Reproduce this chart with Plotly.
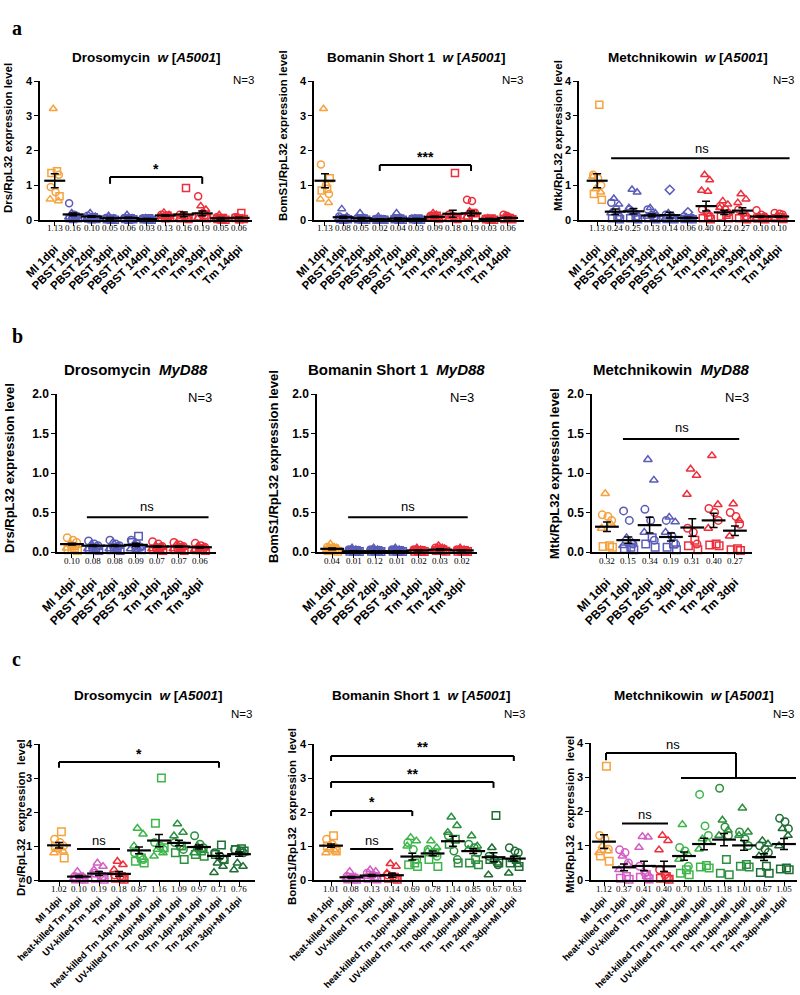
import plotly.graph_objects as go

W, H = 800, 995
NB = "\u00a0"

# ---------------- categories ----------------
cats_a = ["MI 1dpi", "PBST 1dpi", "PBST 2dpi", "PBST 3dpi", "PBST 7dpi", "PBST 14dpi",
          "Tm 1dpi", "Tm 2dpi", "Tm 3dpi", "Tm 7dpi", "Tm 14dpi"]
cats_b = ["MI 1dpi", "PBST 1dpi", "PBST 2dpi", "PBST 3dpi", "Tm 1dpi", "Tm 2dpi", "Tm 3dpi"]
cats_c = ["MI 1dpi", "heat-killed Tm 1dpi", "UV-killed Tm 1dpi", "Tm 1dpi",
          "heat-killed Tm 1dpi+MI 1dpi", "UV-killed Tm 1dpi+MI 1dpi", "Tm 0dpi+MI 1dpi",
          "Tm 1dpi+MI 1dpi", "Tm 2dpi+MI 1dpi", "Tm 3dpi+MI 1dpi"]

# ---------------- panel a1: Drosomycin w[A5001] ----------------
a1_means = [1.13, 0.16, 0.10, 0.05, 0.06, 0.03, 0.13, 0.16, 0.19, 0.05, 0.06]
a1_sem = [0.20, 0.04, 0.02, 0.02, 0.02, 0.01, 0.02, 0.07, 0.07, 0.02, 0.02]
a1_circ = [[0.95, 0.80, 1.30], [0.48, 0.15, 0.10, 0.06], [0.12, 0.08, 0.05, 0.03], [0.06, 0.03, 0.02, 0.01],
           [0.06, 0.04, 0.02, 0.01], [0.05, 0.03, 0.01, 0.02], [0.15, 0.12, 0.10, 0.07], [0.15, 0.10, 0.05],
           [0.68, 0.20, 0.10], [0.08, 0.03, 0.02, 0.01], [0.08, 0.05, 0.03, 0.02]]
a1_tri = [[3.20, 0.55, 0.60], [0.20, 0.12, 0.08, 0.05], [0.20, 0.10, 0.06, 0.03], [0.12, 0.05, 0.02, 0.03],
          [0.15, 0.06, 0.03, 0.02], [0.06, 0.03, 0.02, 0.01], [0.22, 0.15, 0.10, 0.08], [0.15, 0.08, 0.04],
          [0.40, 0.30, 0.05], [0.15, 0.05, 0.02, 0.03], [0.10, 0.05, 0.02, 0.03]]
a1_sq = [[1.40, 1.35, 0.68], [0.10, 0.05, 0.05, 0.03], [0.08, 0.04, 0.03, 0.02], [0.04, 0.02, 0.01, 0.02],
         [0.05, 0.03, 0.02, 0.01], [0.05, 0.02, 0.01, 0.02], [0.12, 0.08, 0.06, 0.05], [0.92, 0.05, 0.03],
         [0.15, 0.10, 0.05], [0.06, 0.03, 0.01, 0.02], [0.20, 0.06, 0.03, 0.02]]

# ---------------- panel a2: Bomanin Short 1 w[A5001] ----------------
a2_means = [1.13, 0.08, 0.05, 0.02, 0.04, 0.03, 0.09, 0.18, 0.19, 0.03, 0.06]
a2_sem = [0.20, 0.03, 0.02, 0.01, 0.02, 0.01, 0.02, 0.10, 0.07, 0.01, 0.02]
a2_circ = [[1.60, 1.00, 0.75], [0.10, 0.05, 0.02, 0.04], [0.06, 0.03, 0.02, 0.01], [0.03, 0.02, 0.01, 0.02],
           [0.05, 0.03, 0.02, 0.01], [0.04, 0.03, 0.02, 0.01], [0.12, 0.08, 0.05, 0.10], [0.15, 0.10, 0.05],
           [0.58, 0.55, 0.20], [0.04, 0.03, 0.02, 0.01], [0.15, 0.08, 0.04, 0.12]]
a2_tri = [[3.20, 0.50, 0.60], [0.32, 0.10, 0.05, 0.03], [0.20, 0.05, 0.02, 0.03], [0.10, 0.02, 0.01, 0.03],
          [0.20, 0.05, 0.02, 0.03], [0.05, 0.03, 0.02, 0.01], [0.20, 0.10, 0.05, 0.15], [0.12, 0.08, 0.04],
          [0.25, 0.15, 0.08], [0.06, 0.03, 0.02, 0.01], [0.10, 0.05, 0.02, 0.08]]
a2_sq = [[0.90, 0.85, 1.20], [0.05, 0.03, 0.02, 0.01], [0.04, 0.02, 0.01, 0.02], [0.02, 0.01, 0.01, 0.02],
         [0.04, 0.02, 0.01, 0.02], [0.04, 0.02, 0.01, 0.02], [0.12, 0.07, 0.04, 0.09], [1.35, 0.06, 0.03],
         [0.20, 0.10, 0.05], [0.04, 0.02, 0.01, 0.02], [0.06, 0.03, 0.02, 0.05]]

# ---------------- panel a3: Metchnikowin w[A5001] ----------------
a3_means = [1.13, 0.24, 0.25, 0.13, 0.14, 0.06, 0.40, 0.22, 0.27, 0.10, 0.10]
a3_sem = [0.20, 0.08, 0.08, 0.04, 0.08, 0.02, 0.14, 0.06, 0.08, 0.02, 0.02]
a3_circ = [[1.30, 1.20, 1.00], [0.50, 0.30, 0.10], [0.30, 0.20, 0.10], [0.30, 0.15, 0.10],
           [0.15, 0.10, 0.05], [0.10, 0.05, 0.03], [0.30, 0.20, 0.10], [0.40, 0.30, 0.20],
           [0.30, 0.20, 0.10], [0.28, 0.15, 0.10], [0.20, 0.18, 0.15]]
a3_tri = [[0.90, 0.80, 1.25], [0.62, 0.45, 0.20], [0.88, 0.80, 0.35], [0.35, 0.20, 0.10],
          [0.20, 0.10, 0.05], [0.08, 0.05, 0.02], [1.30, 1.15, 0.85, 0.82], [0.55, 0.45, 0.35],
          [0.75, 0.60, 0.50], [0.12, 0.08, 0.05], [0.12, 0.08, 0.05]]
a3_sq = [[3.32, 0.75, 0.58], [0.10, 0.05, 0.02], [0.10, 0.05, 0.02], [0.10, 0.05, 0.02],
         [0.05, 0.03, 0.02], [0.05, 0.03, 0.02], [0.10, 0.05, 0.02], [0.15, 0.10, 0.05],
         [0.10, 0.05, 0.02], [0.06, 0.04, 0.02], [0.08, 0.05, 0.03]]
a3_dia = [[], [], [], [], [0.87], [0.22], [], [], [], [], []]

# ---------------- panel b1: Drosomycin MyD88 ----------------
b1_means = [0.10, 0.08, 0.08, 0.09, 0.07, 0.07, 0.06]
b1_sem = [0.01, 0.01, 0.01, 0.02, 0.01, 0.01, 0.01]
b1_circ = [[0.18, 0.15, 0.12, 0.09], [0.14, 0.10, 0.08, 0.06], [0.15, 0.10, 0.08, 0.06], [0.15, 0.10, 0.06, 0.08],
           [0.13, 0.10, 0.07, 0.05], [0.12, 0.09, 0.07, 0.05], [0.11, 0.08, 0.06, 0.05]]
b1_tri = [[0.10, 0.08, 0.05, 0.06], [0.10, 0.06, 0.04, 0.05], [0.12, 0.07, 0.04, 0.05], [0.10, 0.06, 0.04, 0.05],
          [0.08, 0.06, 0.04, 0.05], [0.10, 0.06, 0.04, 0.05], [0.08, 0.05, 0.03, 0.04]]
b1_sq = [[0.05, 0.03, 0.02, 0.04], [0.05, 0.03, 0.02, 0.04], [0.05, 0.03, 0.02, 0.04], [0.20, 0.12, 0.03, 0.05],
         [0.05, 0.03, 0.02, 0.04], [0.05, 0.03, 0.02, 0.04], [0.04, 0.03, 0.02, 0.03]]

# ---------------- panel b2: Bomanin Short 1 MyD88 ----------------
b2_means = [0.04, 0.01, 0.01, 0.01, 0.02, 0.03, 0.02]
b2_labels = ["0.04", "0.01", "0.12", "0.01", "0.02", "0.03", "0.02"]
b2_sem = [0.01, 0.005, 0.005, 0.005, 0.005, 0.01, 0.005]
b2_circ = [[0.06, 0.04, 0.03, 0.05], [0.03, 0.02, 0.01, 0.02], [0.03, 0.02, 0.01, 0.02], [0.03, 0.02, 0.01, 0.02],
           [0.03, 0.02, 0.01, 0.02], [0.05, 0.03, 0.02, 0.04], [0.03, 0.02, 0.01, 0.02]]
b2_tri = [[0.10, 0.05, 0.03, 0.06], [0.05, 0.02, 0.01, 0.03], [0.05, 0.02, 0.01, 0.03], [0.05, 0.02, 0.01, 0.03],
          [0.05, 0.02, 0.01, 0.03], [0.08, 0.04, 0.02, 0.05], [0.05, 0.02, 0.01, 0.03]]
b2_sq = [[0.04, 0.02, 0.01, 0.03], [0.02, 0.01, 0.005, 0.01], [0.02, 0.01, 0.005, 0.01], [0.02, 0.01, 0.005, 0.01],
         [0.02, 0.01, 0.005, 0.01], [0.03, 0.02, 0.01, 0.02], [0.02, 0.01, 0.005, 0.01]]

# ---------------- panel b3: Metchnikowin MyD88 ----------------
b3_means = [0.32, 0.15, 0.34, 0.19, 0.31, 0.40, 0.27]
b3_sem = [0.06, 0.04, 0.10, 0.05, 0.11, 0.09, 0.06]
b3_circ = [[0.47, 0.45, 0.40], [0.52, 0.40, 0.10], [0.54, 0.40, 0.15], [0.40, 0.20, 0.10],
           [0.30, 0.25, 0.10], [0.55, 0.50, 0.40], [0.50, 0.45, 0.35]]
b3_tri = [[0.74, 0.35, 0.30], [0.18, 0.12, 0.08], [1.17, 0.91, 0.25], [0.44, 0.38, 0.25],
          [1.05, 0.97, 0.73], [1.22, 0.60, 0.30], [0.61, 0.40, 0.20]]
b3_sq = [[0.08, 0.07, 0.06], [0.06, 0.04, 0.03], [0.18, 0.10, 0.06], [0.10, 0.06, 0.03],
         [0.15, 0.08, 0.03], [0.10, 0.09, 0.08], [0.04, 0.03, 0.02]]

# ---------------- panel c1: Drosomycin w[A5001] ----------------
c1_means = [1.02, 0.10, 0.19, 0.18, 0.87, 1.16, 1.09, 0.97, 0.71, 0.76]
c1_sem = [0.08, 0.03, 0.06, 0.07, 0.10, 0.18, 0.08, 0.06, 0.08, 0.06]
c1_circ = [[1.20, 1.10, 1.00], [0.10, 0.08, 0.05], [0.20, 0.15, 0.10], [0.15, 0.10, 0.05],
           [0.80, 0.70, 0.60], [1.10, 1.00, 0.90], [1.10, 1.00, 0.90], [1.30, 1.05, 0.95],
           [0.80, 0.70, 0.60], [0.90, 0.85, 0.80]]
c1_tri = [[0.90, 0.85, 0.80], [0.25, 0.10, 0.05], [0.50, 0.40, 0.30], [0.55, 0.45, 0.30],
          [1.52, 1.35, 1.00], [0.90, 0.80, 0.70], [1.65, 1.40, 1.30], [1.00, 0.90, 0.80],
          [0.50, 0.40, 0.22], [0.50, 0.40, 0.30]]
c1_sq = [[1.42, 1.00, 0.65], [0.05, 0.03, 0.02], [0.10, 0.05, 0.02], [0.10, 0.05, 0.02],
         [0.65, 0.55, 0.50], [3.00, 1.67, 0.95], [1.00, 0.80, 0.60], [0.85, 0.75, 0.70],
         [1.03, 0.75, 0.60], [0.92, 0.90, 0.85]]

# ---------------- panel c2: Bomanin Short 1 w[A5001] ----------------
c2_means = [1.01, 0.08, 0.13, 0.14, 0.69, 0.78, 1.14, 0.85, 0.67, 0.63]
c2_sem = [0.05, 0.02, 0.03, 0.06, 0.10, 0.07, 0.15, 0.07, 0.13, 0.07]
c2_circ = [[1.20, 1.05, 0.95], [0.10, 0.06, 0.04], [0.20, 0.15, 0.10], [0.15, 0.10, 0.05],
           [1.10, 0.90, 0.60], [0.90, 0.80, 0.70], [1.30, 0.85, 0.60], [1.05, 0.95, 0.80],
           [0.70, 0.60, 0.45], [0.95, 0.85, 0.80]]
c2_tri = [[0.90, 0.85, 0.80], [0.25, 0.08, 0.04], [0.30, 0.25, 0.10], [0.48, 0.40, 0.20],
          [1.25, 1.15, 1.00], [1.15, 0.95, 0.85], [1.85, 1.60, 1.40], [1.30, 1.00, 0.90],
          [0.95, 0.50, 0.15], [0.60, 0.45, 0.20]]
c2_sq = [[1.30, 1.00, 0.85], [0.05, 0.03, 0.02], [0.10, 0.05, 0.03], [0.08, 0.05, 0.02],
         [0.50, 0.45, 0.40], [0.80, 0.60, 0.40], [1.20, 1.05, 0.50], [0.60, 0.50, 0.45],
         [1.90, 0.60, 0.50], [0.60, 0.50, 0.40]]

# ---------------- panel c3: Metchnikowin w[A5001] ----------------
c3_means = [1.12, 0.37, 0.41, 0.40, 0.70, 1.05, 1.18, 1.01, 0.67, 1.05]
c3_sem = [0.20, 0.10, 0.14, 0.15, 0.12, 0.17, 0.18, 0.14, 0.10, 0.16]
c3_circ = [[1.30, 1.20, 0.90], [0.88, 0.80, 0.50], [0.40, 0.20, 0.10], [0.30, 0.15, 0.05],
           [0.95, 0.85, 0.40], [2.50, 1.58, 1.30], [2.68, 1.55, 1.30], [1.40, 1.20, 1.00],
           [1.00, 0.90, 0.80], [1.80, 1.70, 1.50]]
c3_tri = [[1.00, 0.85, 0.80], [0.70, 0.45, 0.30], [1.27, 1.25, 0.95], [1.30, 1.15, 0.88],
          [1.62, 0.75, 0.60], [1.20, 1.10, 0.90], [1.75, 1.45, 1.30], [2.10, 1.40, 1.30],
          [1.15, 1.05, 0.70], [1.50, 1.30, 1.00]]
c3_sq = [[3.32, 0.70, 0.55], [0.10, 0.05, 0.02], [0.15, 0.08, 0.03], [0.10, 0.05, 0.02],
         [0.30, 0.20, 0.15], [0.42, 0.38, 0.35], [0.60, 0.20, 0.15], [0.45, 0.40, 0.38],
         [0.40, 0.22, 0.20], [0.35, 0.32, 0.30]]

# ---------------- styles ----------------
ORG, BLU, RED = "#F6A23E", "#5A5CB8", "#EC2F3B"
PNK, LG, MG, DG = "#D35DC3", "#3DB54A", "#2B8F3D", "#1F6E33"
col_a = [ORG] + [BLU] * 5 + [RED] * 5
col_b = [ORG] + [BLU] * 3 + [RED] * 3
col_c = [ORG, PNK, PNK, RED, LG, LG, MG, MG, DG, DG]

OFFS = [[-0.22, 0.05, 0.22, -0.05],
        [-0.08, 0.20, -0.25, 0.10],
        [0.12, -0.18, 0.26, 0.0],
        [0.0, 0.1]]
SYMS = ["circle-open", "triangle-up-open", "square-open", "diamond-open"]

SANS = "Liberation Sans"
SERIF = "Liberation Serif"

fig = go.Figure()
annotations = []
shapes = []


def px_x(v):
    return v / W


def px_y(v):
    return 1 - v / H


def add_panel(n, cats, groups_list, means, sem, labels, colors, geom):
    xr = "x" if n == 1 else f"x{n}"
    yr = "y" if n == 1 else f"y{n}"
    for si, groups in enumerate(groups_list):
        xs, ys, cs = [], [], []
        for gi, vals in enumerate(groups):
            for k, v in enumerate(vals):
                xs.append(gi + OFFS[si][k % len(OFFS[si])])
                ys.append(v)
                cs.append(colors[gi])
        if not xs:
            continue
        fig.add_trace(go.Scatter(
            x=xs, y=ys, mode="markers", xaxis=xr, yaxis=yr, cliponaxis=False,
            marker=dict(symbol=SYMS[si], size=geom["ms"], color=cs, line=dict(color=cs, width=1.5)),
            hoverinfo="skip"))
    fig.add_trace(go.Scatter(
        x=list(range(len(cats))), y=means, mode="markers", xaxis=xr, yaxis=yr, cliponaxis=False,
        marker=dict(symbol="line-ew-open", size=geom["mw"], color="black",
                    line=dict(color="black", width=2.2)),
        error_y=dict(type="data", array=sem, color="black", thickness=1.5, width=4),
        hoverinfo="skip"))
    for i, lab in enumerate(labels):
        annotations.append(dict(x=i, y=0, xref=xr, yref=f"{yr} domain", text=lab, showarrow=False,
                                yshift=-geom["lab_dy"], yanchor="middle",
                                font=dict(family=SERIF, size=9, color="black")))
    x0, x1, yt, yb = geom["box"]
    ax = dict(domain=[px_x(x0), px_x(x1)], anchor=yr, range=geom["xr"], automargin=False,
              tickvals=list(range(len(cats))), ticktext=cats, tickangle=-45,
              tickfont=dict(family=SANS, size=geom["xfs"], color="black", weight="bold"),
              showline=True, linecolor="black", linewidth=1.5, ticks="outside", ticklen=4,
              tickwidth=1.2, tickcolor="black", showgrid=False, zeroline=False,
              ticklabelstandoff=geom["standoff"])
    ay = dict(domain=[px_y(yb), px_y(yt)], anchor=xr, range=geom["yr"], automargin=False,
              tickvals=geom["yt"], ticktext=geom["ytt"],
              tickfont=dict(family=SANS, size=geom["yfs"], color="black", weight="bold"),
              showline=True, linecolor="black", linewidth=1.5, ticks="outside", ticklen=4,
              tickwidth=1.2, tickcolor="black", showgrid=False, zeroline=False)
    fig.update_layout(**{("xaxis" if n == 1 else f"xaxis{n}"): ax,
                         ("yaxis" if n == 1 else f"yaxis{n}"): ay})
    tx, ty, ttext, tsize = geom["title"]
    annotations.append(dict(x=px_x(tx), y=px_y(ty), xref="paper", yref="paper", text=ttext,
                            showarrow=False, xanchor="center", yanchor="middle",
                            font=dict(family=SANS, size=tsize, color="black")))
    nx, ny, nsize = geom["N"]
    annotations.append(dict(x=px_x(nx), y=px_y(ny), xref="paper", yref="paper", text="N=3",
                            showarrow=False, xanchor="center", yanchor="middle",
                            font=dict(family=SANS, size=nsize, color="black")))
    yx, yy, ytext, ysize = geom["ytitle"]
    annotations.append(dict(x=px_x(yx), y=px_y(yy), xref="paper", yref="paper", text=ytext,
                            textangle=-90, showarrow=False, xanchor="center", yanchor="middle",
                            font=dict(family=SANS, size=ysize, color="black", weight="bold")))
    return xr, yr


def line(xr, yr, x0, y0, x1, y1, w=2):
    shapes.append(dict(type="line", xref=xr, yref=yr, x0=x0, y0=y0, x1=x1, y1=y1,
                       line=dict(color="black", width=w)))


def bracket(xr, yr, x0, x1, y, drop, text, ty, size=14, bold=True):
    line(xr, yr, x0, y, x1, y)
    if drop:
        line(xr, yr, x0, y, x0, y - drop)
        line(xr, yr, x1, y, x1, y - drop)
    annotations.append(dict(x=(x0 + x1) / 2, y=ty, xref=xr, yref=yr, text=text, showarrow=False,
                            yanchor="middle",
                            font=dict(family=SANS, size=size, color="black",
                                      weight="bold" if bold else "normal")))


fmt = lambda arr: [f"{v:.2f}" for v in arr]

yt4 = [0, 1, 2, 3, 4]
yt4t = ["0", "1", "2", "3", "4"]
yt2 = [0, 0.5, 1.0, 1.5, 2.0]
yt2t = ["0.0", "0.5", "1.0", "1.5", "2.0"]

tA = lambda g: f"<b>{g}{NB}{NB}<i>w</i> [<i>A5001</i>]</b>"
tB = lambda g: f"<b>{g}{NB}{NB}<i>MyD88</i></b>"
ylab_a = lambda g: f"{g}/RpL32 expression level"
ylab_c = lambda g: f"{g}/RpL32{NB}{NB}expression{NB}{NB}level"

# ---------- row a ----------
gA = dict(yr=[0, 4], yt=yt4, ytt=yt4t, mw=15, ms=7, lab_dy=8, standoff=12, xfs=11.5, yfs=11)
xr, yr = add_panel(1, cats_a, [a1_circ, a1_tri, a1_sq], a1_means, a1_sem, fmt(a1_means), col_a,
                   dict(gA, box=(40, 252, 81, 220), xr=[-0.8, 10.7],
                        title=(146, 58, tA("Drosomycin"), 13.5), N=(243, 80, 11.5),
                        ytitle=(8, 138, ylab_a("Drs"), 11.5)))
bracket(xr, yr, 3, 8, 1.24, 0.2, "*", 1.47)
xr, yr = add_panel(2, cats_a, [a2_circ, a2_tri, a2_sq], a2_means, a2_sem, fmt(a2_means), col_a,
                   dict(gA, box=(314, 524, 81, 220), xr=[-0.6, 10.9],
                        title=(416, 58, tA("Bomanin Short 1"), 13.5), N=(512, 80, 11.5),
                        ytitle=(283, 136, ylab_a("BomS1"), 11.5)))
bracket(xr, yr, 3, 8, 1.58, 0.17, "***", 1.82)
xr, yr = add_panel(3, cats_a, [a3_circ, a3_tri, a3_sq, a3_dia], a3_means, a3_sem, fmt(a3_means), col_a,
                   dict(gA, box=(579, 795, 81, 220), xr=[-1.0, 10.9],
                        title=(688, 58, tA("Metchnikowin"), 13.5), N=(783, 80, 11.5),
                        ytitle=(558, 136, ylab_a("Mtk"), 11.5)))
line(xr, yr, 0.77, 1.78, 10.6, 1.78)
annotations.append(dict(x=5.8, y=2.07, xref=xr, yref=yr, text="ns", showarrow=False,
                        font=dict(family=SANS, size=13, color="black")))

# ---------- row b ----------
gB = dict(yr=[0, 2], yt=yt2, ytt=yt2t, mw=17, ms=7.5, lab_dy=9, standoff=13, xfs=12, yfs=12)
xr, yr = add_panel(4, cats_b, [b1_circ, b1_tri, b1_sq], b1_means, b1_sem, fmt(b1_means), col_b,
                   dict(gB, box=(57, 216, 394, 552), xr=[-0.7, 6.75],
                        title=(136, 369, tB("Drosomycin"), 15), N=(200, 397, 13),
                        ytitle=(9, 468, ylab_a("Drs"), 13)))
line(xr, yr, 0.7, 0.44, 6.4, 0.44)
annotations.append(dict(x=3.5, y=0.58, xref=xr, yref=yr, text="ns", showarrow=False,
                        font=dict(family=SANS, size=13, color="black")))
xr, yr = add_panel(5, cats_b, [b2_circ, b2_tri, b2_sq], b2_means, b2_sem, b2_labels, col_b,
                   dict(gB, box=(317, 477, 394, 552), xr=[-0.7, 6.7],
                        title=(396, 369, tB("Bomanin Short 1"), 15), N=(462, 397, 13),
                        ytitle=(274, 467, ylab_a("BomS1"), 13)))
line(xr, yr, 0.74, 0.44, 6.27, 0.44)
annotations.append(dict(x=3.5, y=0.58, xref=xr, yref=yr, text="ns", showarrow=False,
                        font=dict(family=SANS, size=13, color="black")))
xr, yr = add_panel(6, cats_b, [b3_circ, b3_tri, b3_sq], b3_means, b3_sem, fmt(b3_means), col_b,
                   dict(gB, box=(592, 752, 394, 552), xr=[-0.7, 6.8],
                        title=(671, 369, tB("Metchnikowin"), 15), N=(737, 397, 13),
                        ytitle=(555, 474, ylab_a("Mtk"), 13)))
line(xr, yr, 0.75, 1.43, 6.2, 1.43)
annotations.append(dict(x=3.5, y=1.57, xref=xr, yref=yr, text="ns", showarrow=False,
                        font=dict(family=SANS, size=13, color="black")))

# ---------- row c ----------
gC = dict(yr=[0, 4], yt=yt4, ytt=yt4t, mw=17, ms=7.5, lab_dy=9, standoff=5, xfs=9.5, yfs=11)
xr, yr = add_panel(7, cats_c, [c1_circ, c1_tri, c1_sq], c1_means, c1_sem, fmt(c1_means), col_c,
                   dict(gC, box=(40, 255, 744, 880), xr=[-0.95, 9.8],
                        title=(148, 695, tA("Drosomycin"), 13.5), N=(241, 714, 11.5),
                        ytitle=(21, 818, ylab_c("Drs"), 11.5)))
bracket(xr, yr, 0, 8, 3.47, 0.17, "*", 3.72)
bracket(xr, yr, 0.9, 3.05, 0.91, 0, "ns", 1.16, size=13, bold=False)
xr, yr = add_panel(8, cats_c, [c2_circ, c2_tri, c2_sq], c2_means, c2_sem, fmt(c2_means), col_c,
                   dict(gC, box=(314, 526, 744, 880), xr=[-0.84, 9.6],
                        title=(421, 695, tA("Bomanin Short 1"), 13.5), N=(514, 714, 11.5),
                        ytitle=(292, 817, ylab_c("BomS1"), 11.5)))
bracket(xr, yr, 0, 9, 3.65, 0.15, "**", 3.9)
bracket(xr, yr, 0, 8, 2.88, 0.17, "**", 3.13)
bracket(xr, yr, 0, 4, 2.03, 0.15, "*", 2.28)
bracket(xr, yr, 0.94, 3.06, 0.91, 0, "ns", 1.16, size=13, bold=False)
xr, yr = add_panel(9, cats_c, [c3_circ, c3_tri, c3_sq], c3_means, c3_sem, fmt(c3_means), col_c,
                   dict(gC, box=(591, 797, 743, 880), xr=[-0.65, 9.65],
                        title=(694, 695, tA("Metchnikowin"), 13.5), N=(783, 714, 11.5),
                        ytitle=(570, 815, ylab_c("Mtk"), 11.5)))
line(xr, yr, 0.1, 3.5, 0.1, 3.71)
line(xr, yr, 0.1, 3.71, 6.6, 3.71)
line(xr, yr, 6.6, 3.71, 6.6, 2.98)
line(xr, yr, 3.85, 2.98, 9.6, 2.98)
annotations.append(dict(x=3.45, y=3.97, xref=xr, yref=yr, text="ns", showarrow=False,
                        font=dict(family=SANS, size=13, color="black")))
bracket(xr, yr, 0.9, 3.2, 1.65, 0, "ns", 1.92, size=13, bold=False)

# panel letters
for letter, ly in [("a", 15), ("b", 323), ("c", 659)]:
    annotations.append(dict(x=px_x(10), y=px_y(ly), xref="paper", yref="paper",
                            text=f"<b>{letter}</b>", showarrow=False,
                            font=dict(family=SERIF, size=20, color="black")))

fig.update_layout(width=W, height=H, margin=dict(l=0, r=0, t=0, b=0, autoexpand=False),
                  paper_bgcolor="white", plot_bgcolor="white", showlegend=False,
                  annotations=annotations, shapes=shapes)
fig.write_html("out.html")
